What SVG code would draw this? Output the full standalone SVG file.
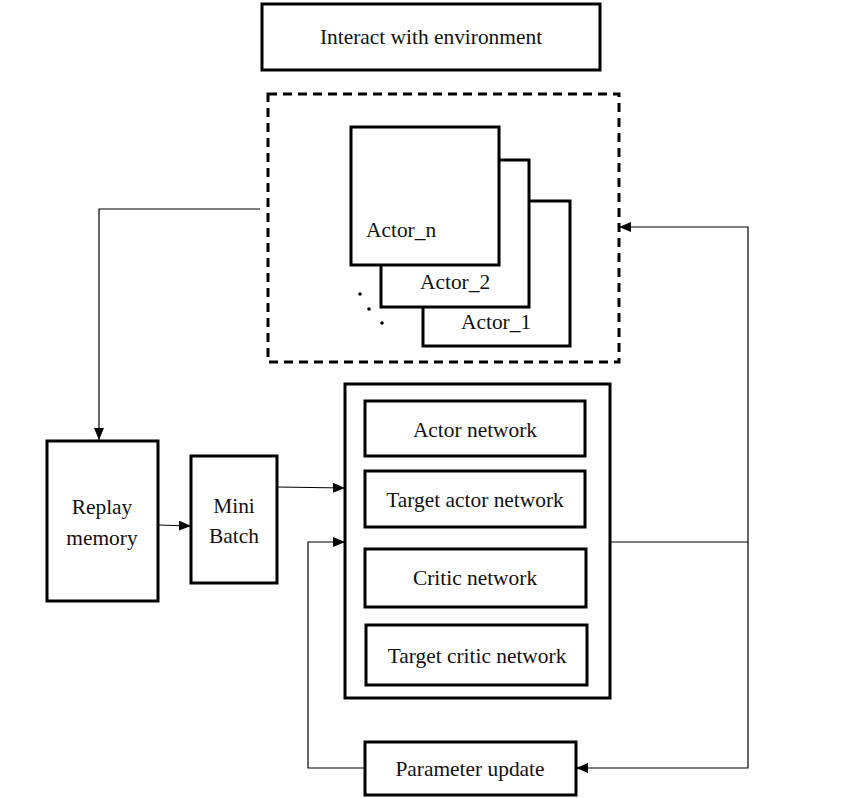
<svg xmlns="http://www.w3.org/2000/svg" width="850" height="798" viewBox="0 0 850 798">
<style>
.box{fill:#fff;stroke:#000;stroke-width:3}
.dash{fill:none;stroke:#000;stroke-width:3;stroke-dasharray:9,6}
.t{font-family:"Liberation Serif","Times New Roman",serif;font-size:21.4px;fill:#111}
.c{text-anchor:middle}
.ln{fill:none;stroke:#000;stroke-width:1.2}
</style>
<defs>
<marker id="ah" viewBox="0 0 12 10" refX="12" refY="5" markerWidth="12" markerHeight="10" markerUnits="userSpaceOnUse" orient="auto">
<path d="M0,0 L12,5 L0,10 Z" fill="#000"/>
</marker>
</defs>
<rect width="850" height="798" fill="#fff"/>
<g id="connectors">
<polyline class="ln" points="260,209 99,209 99,440" marker-end="url(#ah)"/>
<line class="ln" x1="158" y1="525" x2="191" y2="526" marker-end="url(#ah)"/>
<line class="ln" x1="277" y1="487" x2="345" y2="488" marker-end="url(#ah)"/>
<polyline class="ln" points="365,768 308,768 308,542 345,542" marker-end="url(#ah)"/>
<polyline class="ln" points="610,542 748,542 748,227 619,227" marker-end="url(#ah)"/>
<polyline class="ln" points="748,542 748,768 576,768" marker-end="url(#ah)"/>
</g>
<g id="interact">
<rect class="box" x="262" y="4" width="338" height="66"/>
<text class="t c" x="431" y="44">Interact with environment</text>
</g>
<g id="actors">
<rect class="dash" x="268" y="94" width="351" height="268"/>
<g id="actor1">
<rect class="box" x="423" y="201" width="147" height="145"/>
<text class="t" x="461" y="329">Actor_1</text>
</g>
<g id="actor2">
<rect class="box" x="381" y="160" width="148" height="147"/>
<text class="t" x="420" y="289">Actor_2</text>
</g>
<g id="actorn">
<rect class="box" x="351" y="127" width="148" height="138"/>
<text class="t" x="366" y="237">Actor_n</text>
</g>
<circle cx="360" cy="294" r="1.8" fill="#000"/>
<circle cx="369" cy="309" r="1.8" fill="#000"/>
<circle cx="382" cy="323" r="1.8" fill="#000"/>
</g>
<g id="replay">
<rect class="box" x="47" y="441" width="111" height="160"/>
<text class="t c" x="102" y="514">Replay</text>
<text class="t c" x="102" y="545">memory</text>
</g>
<g id="minibatch">
<rect class="box" x="191" y="456" width="86" height="127"/>
<text class="t c" x="234" y="513">Mini</text>
<text class="t c" x="234" y="543">Batch</text>
</g>
<g id="networks">
<rect class="box" x="345" y="384" width="265" height="314"/>
<g id="actornet">
<rect class="box" x="365" y="401" width="220" height="55"/>
<text class="t c" x="475" y="437">Actor network</text>
</g>
<g id="targetactor">
<rect class="box" x="365" y="471" width="220" height="56"/>
<text class="t c" x="475" y="507">Target actor network</text>
</g>
<g id="critic">
<rect class="box" x="365" y="549" width="221" height="58"/>
<text class="t c" x="475" y="585">Critic network</text>
</g>
<g id="targetcritic">
<rect class="box" x="366" y="625" width="221" height="60"/>
<text class="t c" x="477" y="663">Target critic network</text>
</g>
</g>
<g id="paramupdate">
<rect class="box" x="365" y="742" width="211" height="53"/>
<text class="t c" x="470" y="776">Parameter update</text>
</g>
</svg>
